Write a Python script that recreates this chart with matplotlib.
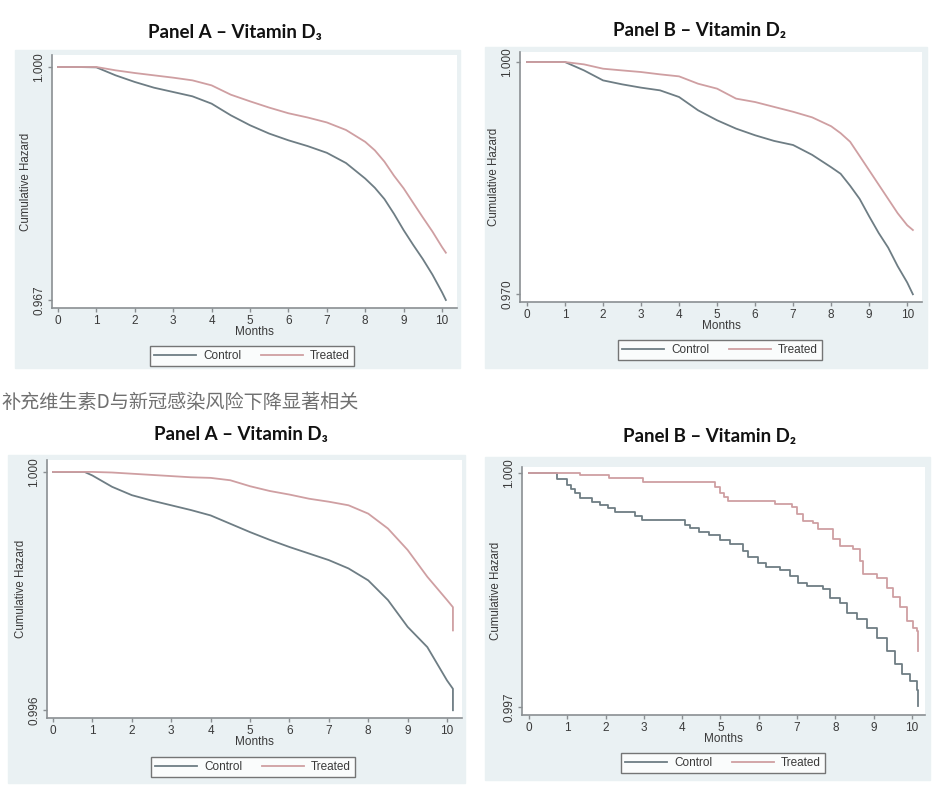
import matplotlib
matplotlib.use("Agg")
import matplotlib.pyplot as plt
from matplotlib.patches import Rectangle

plt.rcParams['font.family'] = ['Liberation Sans', 'DejaVu Sans']

W, H = 936, 796

# ---- data ----
# top row, panel A (vitamin D3)
a1_months = [0, 0.5, 1.0, 1.5, 2, 2.5, 3, 3.5, 4, 4.5, 5, 5.5, 6, 6.5, 7, 7.5, 8, 8.25, 8.5, 8.75,
             9, 9.25, 9.5, 9.75, 10, 10.1]
a1_control = [1.0, 1.0, 0.99995, 0.99882, 0.99788, 0.99707, 0.99646, 0.99585, 0.99481, 0.99316, 0.99175,
              0.99057, 0.98962, 0.98880, 0.98785, 0.98640, 0.98420, 0.98290, 0.98130, 0.97920,
              0.97690, 0.97480, 0.97280, 0.97060, 0.96810, 0.96700]
a1_treated = [1.0, 1.0, 1.0, 0.99953, 0.99915, 0.99882, 0.99849, 0.99811, 0.99740, 0.99608, 0.99514,
              0.99425, 0.99345, 0.99285, 0.99215, 0.99108, 0.98940, 0.98820, 0.98660, 0.98460,
              0.98282, 0.98075, 0.97870, 0.97670, 0.97450, 0.97370]

# top row, panel B (vitamin D2)
b1_months = [0, 0.5, 1.0, 1.5, 2, 2.5, 3, 3.5, 4, 4.5, 5, 5.5, 6, 6.5, 7, 7.5, 8, 8.25, 8.5, 8.75,
             9, 9.25, 9.5, 9.75, 10, 10.15]
b1_control = [1.0, 1.0, 1.0, 0.99892, 0.99763, 0.99712, 0.99669, 0.99634, 0.99548, 0.99376, 0.99247,
              0.99139, 0.99053, 0.98980, 0.98927, 0.98800, 0.98640, 0.98555, 0.98400, 0.98230,
              0.98005, 0.97790, 0.97600, 0.97360, 0.97150, 0.96997]
b1_treated = [1.0, 1.0, 1.0, 0.99970, 0.99914, 0.99892, 0.99871, 0.99841, 0.99815, 0.99720, 0.99656,
              0.99527, 0.99483, 0.99420, 0.99357, 0.99285, 0.99170, 0.99080, 0.98969, 0.98785,
              0.98600, 0.98415, 0.98230, 0.98045, 0.97890, 0.97828]

# bottom row, panel A (vitamin D3)
a2_months = [0, 0.5, 0.8, 1.0, 1.5, 2, 2.5, 3, 3.5, 4, 4.5, 5, 5.5, 6, 6.5, 7, 7.5, 8, 8.5, 9, 9.5, 10, 10.15, 10.15]
a2_control = [1.0, 1.0, 1.0, 0.99994, 0.99975, 0.99961, 0.99952, 0.99944, 0.99936, 0.99927, 0.99913, 0.99899,
              0.99886, 0.99874, 0.99863, 0.99852, 0.99838, 0.99818, 0.99785, 0.99740, 0.99706, 0.99650, 0.99636, 0.99600]
a2_treated = [1.0, 1.0, 1.0, 1.0, 0.99999, 0.99997, 0.99995, 0.99993, 0.99991, 0.99990, 0.99986, 0.99976,
              0.99968, 0.99962, 0.99955, 0.99950, 0.99944, 0.99930, 0.99905, 0.99869, 0.99824, 0.99785, 0.99773, 0.99734]

# bottom row, panel B (vitamin D2), step curves
b2_control_t = [0, 0.73, 0.99, 1.1, 1.2, 1.33, 1.64, 1.85, 2.06, 2.25, 2.77, 2.95, 4.07, 4.2, 4.45, 4.7, 5.0,
                5.25, 5.59, 5.72, 5.98, 6.2, 6.55, 6.81, 7.02, 7.25, 7.67, 7.86, 8.12, 8.3, 8.56, 8.82, 9.08,
                9.34, 9.56, 9.74, 9.95, 10.12, 10.15]
b2_control = [1.0, 0.99992, 0.99985, 0.99979, 0.99974, 0.99968, 0.99963, 0.99959, 0.99955, 0.99950, 0.99945,
              0.99940, 0.99933, 0.99929, 0.99925, 0.99920, 0.99914, 0.99909, 0.99900, 0.99892, 0.99885, 0.99879,
              0.99876, 0.99868, 0.99859, 0.99855, 0.99851, 0.99840, 0.99834, 0.99821, 0.99813, 0.99802, 0.99789,
              0.99772, 0.99755, 0.99742, 0.99734, 0.99722, 0.99701]
b2_treated_t = [0, 1.33, 2.1, 2.97, 4.86, 5.0, 5.1, 5.2, 6.42, 6.87, 7.0, 7.16, 7.42, 7.55, 7.95, 8.12, 8.46,
                8.64, 8.72, 9.08, 9.34, 9.5, 9.68, 9.86, 10.03, 10.12, 10.15]
b2_treated = [1.0, 0.99997, 0.99993, 0.99989, 0.99982, 0.99975, 0.99969, 0.99964, 0.99960, 0.99956, 0.99947,
              0.99939, 0.99936, 0.99928, 0.99915, 0.99906, 0.99903, 0.99887, 0.99870, 0.99866, 0.99853, 0.99841,
              0.99828, 0.99810, 0.99802, 0.99797, 0.99772]

xticks = list(range(0, 11))
caption = "补充维生素D与新冠感染风险下降显著相关"

c_control = "#6e7d84"
c_treated = "#cf9fa2"
bg = "#eaf1f3"
axcol = "#8a8f92"
txtcol = "#3a3a3a"

fig = plt.figure(figsize=(W / 100, H / 100), dpi=100)


def fbox(x0, y0, x1, y1):
    # pixel box (top-left origin) -> figure fraction [l, b, w, h]
    return [x0 / W, 1 - y1 / H, (x1 - x0) / W, (y1 - y0) / H]


def panel(bg_px, ax_px, xlim, ylim, yt, ytl, title, title_xy):
    l, b, w, h = fbox(*bg_px)
    fig.patches.append(Rectangle((l, b), w, h, transform=fig.transFigure, color=bg, zorder=-5))
    ax = fig.add_axes(fbox(*ax_px))
    ax.set_zorder(2)
    ax.set_facecolor("white")
    ax.set_xlim(*xlim)
    ax.set_ylim(*ylim)
    for s in ["top", "right"]:
        ax.spines[s].set_visible(False)
    for s in ["left", "bottom"]:
        ax.spines[s].set_color(axcol)
        ax.spines[s].set_linewidth(1.2)
    ax.set_xticks(xticks)
    ax.set_xticklabels([str(t) for t in xticks])
    ax.set_yticks(yt)
    ax.set_yticklabels(ytl, rotation=90, va="center")
    ax.tick_params(colors=axcol, labelcolor=txtcol, labelsize=8.5, length=3, width=1, pad=2)
    ax.set_xlabel("Months", fontsize=8.5, color=txtcol, labelpad=-1)
    ax.set_ylabel("Cumulative Hazard", fontsize=8.3, color=txtcol, labelpad=1)
    fig.text(title_xy[0] / W, 1 - title_xy[1] / H, title, ha="center", va="center",
             fontsize=13.5, fontweight="bold", family=["Lato", "DejaVu Sans"], color="#111111")
    return ax


def legend(ax, xy):
    lg = ax.legend(loc="center", bbox_to_anchor=(xy[0] / W, 1 - xy[1] / H), bbox_transform=fig.transFigure,
                   ncol=2, fontsize=8.5, frameon=True, fancybox=False, handlelength=3.6, handletextpad=0.6,
                   columnspacing=1.6, borderpad=0.35, labelcolor=txtcol)
    lg.get_frame().set_edgecolor("#555555")
    lg.get_frame().set_linewidth(1.0)


# top-left
ax = panel((15, 50, 460, 368), (52, 55, 457, 308), (-0.156, 10.39), (0.96587, 1.0017),
           [0.967, 1.0], ["0.967", "1.000"], "Panel A \u2013 Vitamin D\u2083", (235, 32))
ax.plot(a1_months, a1_control, color=c_control, lw=1.3, label="Control")
ax.plot(a1_months, a1_treated, color=c_treated, lw=1.3, label="Treated")
legend(ax, (252, 356))

# top-right
ax = panel((485, 47, 927, 368), (520, 52, 922, 302), (-0.184, 10.39), (0.96897, 1.0013),
           [0.970, 1.0], ["0.970", "1.000"], "Panel B \u2013 Vitamin D\u2082", (700, 30))
ax.plot(b1_months, b1_control, color=c_control, lw=1.3, label="Control")
ax.plot(b1_months, b1_treated, color=c_treated, lw=1.3, label="Treated")
legend(ax, (720, 350))

# caption between rows
fig.text(1 / W, 1 - 402 / H, caption, ha="left", va="center", fontsize=13.8, color="#707070",
         family=["Noto Sans CJK SC", "DejaVu Sans"])

# bottom-left
ax = panel((8, 455, 465, 783), (47, 460, 462, 718), (-0.152, 10.38), (0.99587, 1.0002),
           [0.996, 1.0], ["0.996", "1.000"], "Panel A \u2013 Vitamin D\u2083", (241, 435))
ax.plot(a2_months, a2_control, color=c_control, lw=1.3, label="Control")
ax.plot(a2_months, a2_treated, color=c_treated, lw=1.3, label="Treated")
legend(ax, (253, 767))

# bottom-right
ax = panel((485, 457, 930, 780), (522, 467, 925, 715), (-0.183, 10.34), (0.9969, 1.000077),
           [0.997, 1.0], ["0.997", "1.000"], "Panel B \u2013 Vitamin D\u2082", (710, 436))
ax.plot(b2_control_t, b2_control, color=c_control, lw=1.3, drawstyle="steps-post", label="Control")
ax.plot(b2_treated_t, b2_treated, color=c_treated, lw=1.3, drawstyle="steps-post", label="Treated")
legend(ax, (723, 763))

fig.savefig("out.png", dpi=100, facecolor="white")
